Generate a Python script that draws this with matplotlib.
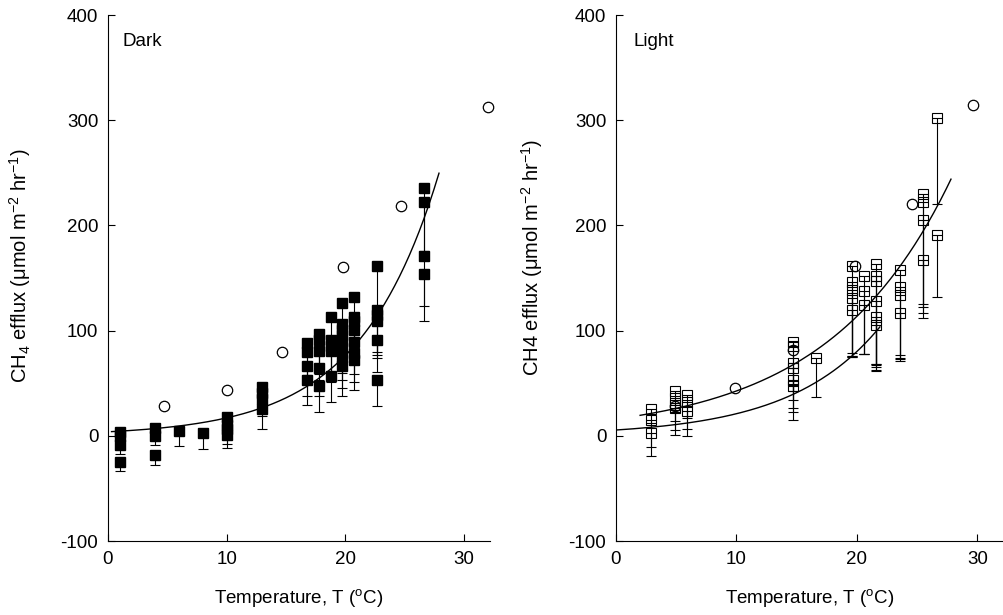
import numpy as np
import matplotlib
matplotlib.use("Agg")
from matplotlib import pyplot as plt

plt.rcParams['font.family'] = ['Liberation Sans', 'DejaVu Sans']
plt.rcParams['mathtext.fontset'] = 'custom'
plt.rcParams['mathtext.rm'] = 'Liberation Sans'
plt.rcParams['mathtext.it'] = 'Liberation Sans:italic'
plt.rcParams['mathtext.default'] = 'regular'
plt.rcParams['axes.unicode_minus'] = False

# dark chamber measurements: temperature, efflux, lower error
dark_T = [1, 4, 6, 8, 10, 13, 16.8, 17.8, 18.8, 19.7, 20.7, 22.7, 26.6]
dark_y = [
    [4, 0, -9, -25],
    [7, 0, -18],
    [5],
    [2.5],
    [18, 10, 6, 1],
    [46, 41, 35, 25],
    [88, 80, 66, 53],
    [97, 91, 81, 64, 47],
    [113, 91, 85, 81, 57],
    [126, 106, 101, 96, 90, 83, 75, 66],
    [132, 113, 109, 101, 89, 79, 72],
    [161, 120, 115, 109, 91, 53],
    [236, 222, 171, 154],
]
dark_err = [
    [6, 7, 8, 8],
    [8, 9, 10],
    [15],
    [15],
    [10, 12, 14, 13],
    [12, 14, 16, 19],
    [30, 28, 28, 24],
    [30, 32, 28, 26, 24],
    [35, 30, 28, 30, 25],
    [40, 35, 35, 32, 30, 30, 30, 28],
    [40, 38, 35, 33, 30, 28, 28],
    [45, 40, 38, 35, 30, 25],
    [60, 55, 48, 45],
]

# light chamber measurements
light_T = [2.9, 4.9, 5.9, 14.7, 16.6, 19.6, 20.6, 21.6, 23.6, 25.5, 26.6]
light_y = [
    [25.7, 14.6, 2.5],
    [43, 36, 29.5, 26],
    [39, 32, 24],
    [89.6, 85, 69, 64, 53, 47],
    [74],
    [161, 146, 139, 131, 120],
    [152, 138, 124],
    [163, 152, 147, 128, 113, 105],
    [158, 141, 134, 117],
    [230, 222, 205, 167],
    [302, 190.5],
]
light_err = [
    [14, 25, 22],
    [20, 22, 24, 25],
    [22, 26, 24],
    [40, 42, 35, 38, 30, 32],
    [37],
    [86, 70, 60, 55, 45],
    [74, 60, 46],
    [100, 90, 80, 60, 45, 40],
    [85, 70, 60, 40],
    [118, 100, 80, 50],
    [82, 59],
]

# literature values (open circles)
lit_T_dark = [4.7, 10, 14.7, 19.8, 24.7, 32]
lit_y_dark = [28, 44, 80, 160, 218, 313]
lit_T_light = [4.9, 9.9, 14.7, 19.8, 24.6, 29.6]
lit_y_light = [28, 45, 82, 161, 220, 314]

# exponential fits  y = a * exp(b * T)
dark_fit = (3.8, 0.15, 0.3, 27.9)
light_fit_upper = (16.0, 0.098, 2.0, 27.8)
light_fit_lower = (5.5, 0.134, 0.0, 21.9)


def flatten(T, Y, E):
    xs, ys, es = [], [], []
    for t, yy, ee in zip(T, Y, E):
        for y, e in zip(yy, ee):
            xs.append(t)
            ys.append(y)
            es.append(e)
    return np.array(xs), np.array(ys), np.array(es)


def draw_fit(ax, fit):
    a, b, t0, t1 = fit
    t = np.linspace(t0, t1, 200)
    ax.plot(t, a * np.exp(b * t), color='black', lw=1.0, zorder=2)


def style_axes(ax, ylabel):
    ax.set_xlim(0, 32.2)
    ax.set_ylim(-100, 400)
    ax.set_xticks([0, 10, 20, 30])
    ax.set_yticks([-100, 0, 100, 200, 300, 400])
    ax.spines['top'].set_visible(False)
    ax.spines['right'].set_visible(False)
    ax.tick_params(direction='in', length=5, width=0.8, labelsize=13.5, pad=7)
    ax.set_xlabel('Temperature, T ($^{o}$C)', fontsize=13.5)
    ax.xaxis.set_label_coords(0.5, -0.088)
    ax.set_ylabel(ylabel, fontsize=14.5)


fig = plt.figure(figsize=(10.04, 6.15), dpi=100)
ax1 = fig.add_axes([108 / 1004, 1 - 541 / 615, 382 / 1004, 526 / 615])
ax2 = fig.add_axes([616 / 1004, 1 - 541 / 615, 388 / 1004, 526 / 615])

# Dark panel
x, y, e = flatten(dark_T, dark_y, dark_err)
ax1.errorbar(x, y, yerr=[e, np.zeros_like(e)], fmt='none', ecolor='black',
             elinewidth=0.8, capsize=3.5, capthick=0.8, zorder=3)
ax1.plot(x, y, 's', color='black', ms=7.2, zorder=4)
ax1.plot(lit_T_dark, lit_y_dark, 'o', mfc='white', mec='black', ms=7.5, mew=0.9,
         zorder=5, clip_on=False)
draw_fit(ax1, dark_fit)
ax1.text(0.038, 0.95, 'Dark', transform=ax1.transAxes, fontsize=13.5, va='center')
style_axes(ax1, 'CH$_4$ efflux ($\\mu$mol m$^{-2}$ hr$^{-1}$)')
ax1.yaxis.set_label_coords(-0.196, 0.523)

# Light panel
x, y, e = flatten(light_T, light_y, light_err)
ax2.errorbar(x, y, yerr=[e, np.zeros_like(e)], fmt='none', ecolor='black',
             elinewidth=0.8, capsize=3.5, capthick=0.8, zorder=3)
ax2.plot(x, y, 's', mfc='none', mec='black', ms=6.5, mew=0.8, zorder=4)
ax2.plot(lit_T_light, lit_y_light, 'o', mfc='none', mec='black', ms=7.5, mew=0.9,
         zorder=5, clip_on=False)
draw_fit(ax2, light_fit_upper)
draw_fit(ax2, light_fit_lower)
ax2.text(0.044, 0.95, 'Light', transform=ax2.transAxes, fontsize=13.5, va='center')
style_axes(ax2, 'CH4 efflux ($\\mu$mol m$^{-2}$ hr$^{-1}$)')
ax2.yaxis.set_label_coords(-0.184, 0.54)

fig.savefig('out.png', dpi=100)
